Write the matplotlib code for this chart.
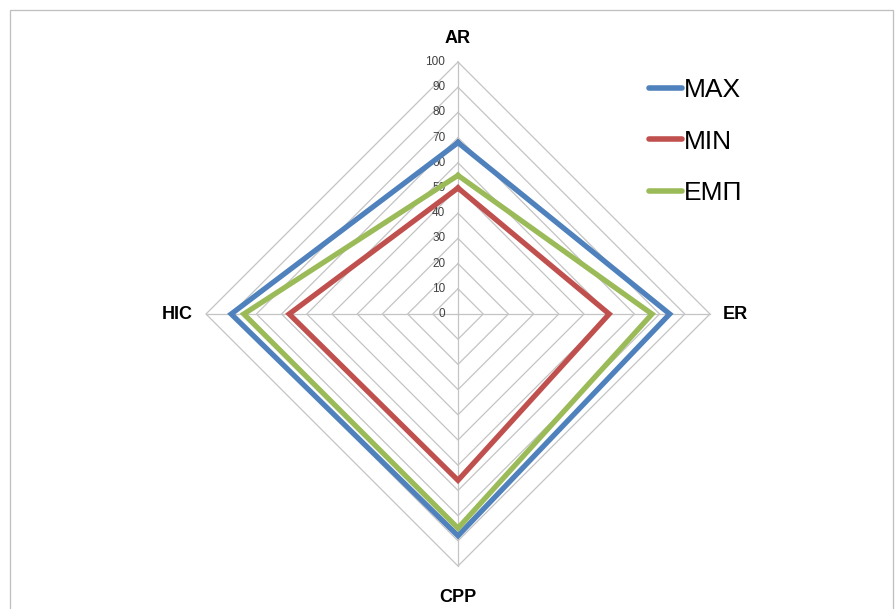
import numpy as np
import matplotlib
matplotlib.use("Agg")
import matplotlib.pyplot as plt
from matplotlib.patches import Rectangle

categories = ["AR", "ER", "CPP", "HIC"]
series_names = ["MAX", "MIN", "ЕМП"]
max_vals = [68, 84, 88, 90]
min_vals = [50, 60, 66, 67]
emp_vals = [55, 77, 85, 85]
tick_values = [0, 10, 20, 30, 40, 50, 60, 70, 80, 90, 100]
colors = ["#4F81BD", "#C0504D", "#9BBB59"]

plt.rcParams['font.family'] = ['Liberation Sans', 'DejaVu Sans']

fig = plt.figure(figsize=(8.96, 6.09), dpi=100)
ax = fig.add_axes([0, 0, 1, 1])
ax.set_xlim(-458 / 2.52, (896 - 458) / 2.52)
ax.set_ylim(-(609 - 314) / 2.52, 314 / 2.52)
ax.axis('off')

n = len(categories)
angles = np.arange(n) * 2 * np.pi / n  # clockwise from top


def to_xy(vals):
    vals = np.asarray(vals, dtype=float)
    x = vals * np.sin(angles)
    y = vals * np.cos(angles)
    return np.append(x, x[0]), np.append(y, y[0])


grid_c = "#C4C4C4"
for t in tick_values[1:]:
    gx, gy = to_xy([t] * n)
    ax.plot(gx, gy, color=grid_c, lw=0.9, zorder=1)
top = tick_values[-1]
for a in angles:
    ax.plot([0, top * np.sin(a)], [0, top * np.cos(a)], color=grid_c, lw=0.9, zorder=1)

for t in tick_values:
    ax.text(-5.0, t, str(t), ha='right', va='center', fontsize=8.5, color='#404040', zorder=2)

for name, vals, c in zip(series_names, [max_vals, min_vals, emp_vals], colors):
    sx, sy = to_xy(vals)
    ax.plot(sx, sy, color=c, lw=3.8, solid_joinstyle='miter', label=name, zorder=3)

# category labels
ax.text(0, 109.5, categories[0], ha='center', va='center', fontsize=13, fontweight='bold')
ax.text(105.2, 0, categories[1], ha='left', va='center', fontsize=13, fontweight='bold')
ax.text(0, -112.5, categories[2], ha='center', va='center', fontsize=13, fontweight='bold')
ax.text(-105.2, 0, categories[3], ha='right', va='center', fontsize=13, fontweight='bold')

leg = ax.legend(loc='upper left', bbox_to_anchor=(649 / 896, 1 - 78 / 609),
                frameon=False, fontsize=19, handlelength=1.25, handletextpad=0.08,
                labelspacing=1.05, borderpad=0, borderaxespad=0)
for line in leg.get_lines():
    line.set_linewidth(4)
    line.set_solid_capstyle('round')

fig.patches.append(Rectangle((10 / 896, -0.1), (893 - 10) / 896, 1.1 - 10 / 609,
                             transform=fig.transFigure, fill=False,
                             edgecolor='#BFBFBF', lw=0.9))

fig.savefig("out.png", dpi=100)
